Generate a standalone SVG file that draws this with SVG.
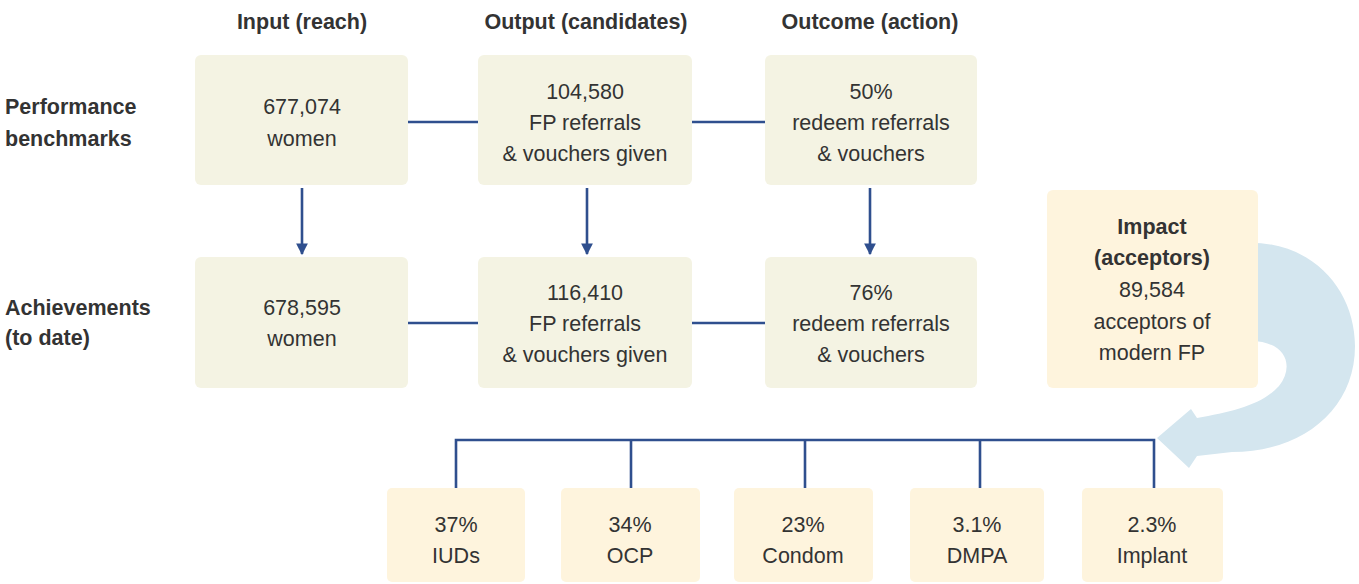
<svg xmlns="http://www.w3.org/2000/svg" width="1359" height="584" viewBox="0 0 1359 584">
<style>
text{font-family:"Liberation Sans",Arial,sans-serif;font-size:21.5px;fill:#333333;}
.b{font-weight:bold;}
.c{text-anchor:middle;}
.box1{fill:#f4f3e3;}
.box2{fill:#fef4dd;}
.ln{stroke:#2f4f8e;stroke-width:2.6;fill:none;}
</style>
<defs>
<marker id="ah" viewBox="0 0 10 10" refX="9" refY="5" markerWidth="4.5" markerHeight="4.5" orient="auto" markerUnits="strokeWidth">
<path d="M0,0 L10,5 L0,10 z" fill="#2f4f8e"/>
</marker>
</defs>
<rect width="1359" height="584" fill="#ffffff"/>

<g id="headers">
<text class="b c" x="302" y="29">Input (reach)</text>
<text class="b c" x="586" y="29">Output (candidates)</text>
<text class="b c" x="870" y="29">Outcome (action)</text>
</g>
<g id="row-labels">
<text class="b" x="5" y="114">Performance</text>
<text class="b" x="5" y="146">benchmarks</text>
<text class="b" x="5" y="315">Achievements</text>
<text class="b" x="5" y="345">(to date)</text>
</g>

<g id="cycle-arrow">
<path d="M1240 243 C1312 238 1355 290 1355 346 C1355 410 1302 452 1232 452 L1197 456 L1189 468 L1157 438 L1191 409 L1197 418 C1232 412 1262 405 1279 386 C1295 366 1286 341 1250 341 Z" fill="#d4e6ef"/>
</g>

<g id="connectors">
<line class="ln" x1="408" y1="122" x2="478" y2="122"/>
<line class="ln" x1="692" y1="122" x2="765" y2="122"/>
<line class="ln" x1="408" y1="323" x2="478" y2="323"/>
<line class="ln" x1="692" y1="323" x2="765" y2="323"/>
<line class="ln" x1="302" y1="188" x2="302" y2="254" marker-end="url(#ah)"/>
<line class="ln" x1="587" y1="188" x2="587" y2="254" marker-end="url(#ah)"/>
<line class="ln" x1="870" y1="188" x2="870" y2="254" marker-end="url(#ah)"/>
<polyline class="ln" points="456,488 456,440 1154,440 1154,488"/>
<line class="ln" x1="631" y1="440" x2="631" y2="488"/>
<line class="ln" x1="805" y1="440" x2="805" y2="488"/>
<line class="ln" x1="980" y1="440" x2="980" y2="488"/>
</g>

<g id="bench-input">
<rect class="box1" x="195" y="55" width="213" height="130" rx="6"/>
<text class="c" x="302" y="114">677,074</text>
<text class="c" x="302" y="146">women</text>
</g>
<g id="bench-output">
<rect class="box1" x="478" y="55" width="214" height="130" rx="6"/>
<text class="c" x="585" y="99">104,580</text>
<text class="c" x="585" y="130">FP referrals</text>
<text class="c" x="585" y="161">&amp; vouchers given</text>
</g>
<g id="bench-outcome">
<rect class="box1" x="765" y="55" width="212" height="130" rx="6"/>
<text class="c" x="871" y="99">50%</text>
<text class="c" x="871" y="130">redeem referrals</text>
<text class="c" x="871" y="161">&amp; vouchers</text>
</g>

<g id="ach-input">
<rect class="box1" x="195" y="257" width="213" height="131" rx="6"/>
<text class="c" x="302" y="315">678,595</text>
<text class="c" x="302" y="346">women</text>
</g>
<g id="ach-output">
<rect class="box1" x="478" y="257" width="214" height="131" rx="6"/>
<text class="c" x="585" y="300">116,410</text>
<text class="c" x="585" y="331">FP referrals</text>
<text class="c" x="585" y="362">&amp; vouchers given</text>
</g>
<g id="ach-outcome">
<rect class="box1" x="765" y="257" width="212" height="131" rx="6"/>
<text class="c" x="871" y="300">76%</text>
<text class="c" x="871" y="331">redeem referrals</text>
<text class="c" x="871" y="362">&amp; vouchers</text>
</g>

<g id="impact">
<rect class="box2" x="1047" y="190" width="211" height="198" rx="6"/>
<text class="b c" x="1152" y="234">Impact</text>
<text class="b c" x="1152" y="265">(acceptors)</text>
<text class="c" x="1152" y="297">89,584</text>
<text class="c" x="1152" y="329">acceptors of</text>
<text class="c" x="1152" y="360">modern FP</text>
</g>

<g id="iud">
<rect class="box2" x="387" y="488" width="138" height="94" rx="5"/>
<text class="c" x="456" y="532">37%</text>
<text class="c" x="456" y="563">IUDs</text>
</g>
<g id="ocp">
<rect class="box2" x="561" y="488" width="139" height="94" rx="5"/>
<text class="c" x="630" y="532">34%</text>
<text class="c" x="630" y="563">OCP</text>
</g>
<g id="condom">
<rect class="box2" x="734" y="488" width="139" height="94" rx="5"/>
<text class="c" x="803" y="532">23%</text>
<text class="c" x="803" y="563">Condom</text>
</g>
<g id="dmpa">
<rect class="box2" x="910" y="488" width="134" height="94" rx="5"/>
<text class="c" x="977" y="532">3.1%</text>
<text class="c" x="977" y="563">DMPA</text>
</g>
<g id="implant">
<rect class="box2" x="1082" y="488" width="141" height="94" rx="5"/>
<text class="c" x="1152" y="532">2.3%</text>
<text class="c" x="1152" y="563">Implant</text>
</g>
</svg>
